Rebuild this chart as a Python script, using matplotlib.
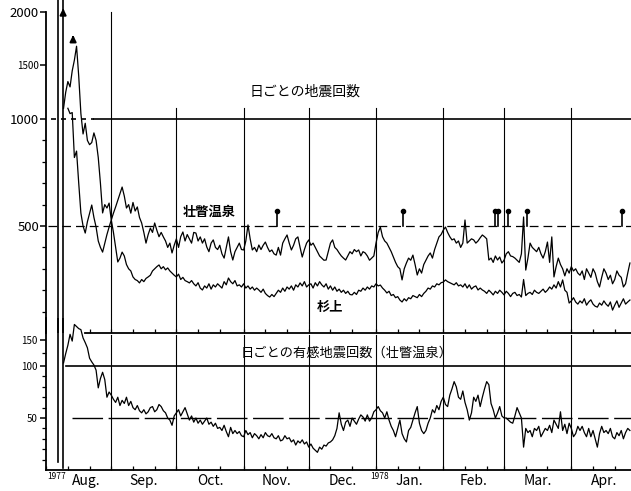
import numpy as np
import matplotlib
matplotlib.use("Agg")
import matplotlib.pyplot as plt

plt.rcParams['font.family'] = ['Noto Sans CJK JP', 'DejaVu Sans']

# days counted from 1977-08-01 (day 0)
sobetsu_start = 9
sobetsu = [1100, 1250, 1350, 1300, 1450, 1550, 1680, 1400, 1050, 930,
           980, 900, 880, 890, 935, 900, 820, 700, 561, 600,
           584, 607, 528, 560, 589, 620, 650, 682, 640, 584,
           600, 560, 610, 570, 589, 540, 514, 470, 420, 460,
           490, 470, 514, 480, 450, 470, 449, 430, 400, 420,
           374, 410, 440, 400, 450, 472, 430, 460, 440, 420,
           470, 467, 430, 449, 420, 440, 402, 380, 420, 435,
           400, 390, 410, 370, 350, 400, 449, 380, 341, 380,
           400, 420, 390, 388, 430, 505, 440, 388, 400, 380,
           411, 390, 410, 425, 400, 380, 388, 370, 364, 400,
           364, 420, 440, 458, 420, 388, 410, 440, 449, 400,
           355, 390, 420, 435, 410, 420, 400, 380, 360, 350,
           340, 341, 380, 420, 435, 400, 390, 374, 360, 350,
           341, 360, 380, 370, 390, 380, 388, 360, 380, 374,
           360, 340, 350, 360, 420, 470, 495, 450, 430, 420,
           400, 380, 355, 330, 310, 300, 248, 300, 327, 350,
           340, 364, 320, 271, 300, 280, 320, 340, 360, 374,
           350, 390, 420, 449, 460, 481, 495, 470, 450, 435,
           440, 420, 430, 400, 420, 528, 420, 430, 440, 435,
           420, 430, 445, 458, 450, 440, 341, 350, 330, 360,
           341, 355, 327, 340, 370, 380, 360, 357, 350, 340,
           330, 370, 542, 294, 350, 420, 400, 390, 380, 400,
           370, 350, 380, 425, 330, 449, 262, 310, 350, 320,
           300, 267, 300, 280, 310, 290, 300, 280, 270, 290,
           250, 300, 280, 260, 300, 280, 240, 215, 260, 300,
           280, 250, 270, 230, 250, 290, 270, 260, 215, 230,
           280, 327]

sugiue_start = 11
sugiue = [1100, 1050, 1060, 820, 850, 700,
          560, 500, 467, 520, 560, 598, 540, 495, 430, 400,
          378, 420, 460, 495, 528, 470, 400, 332, 350, 378,
          360, 320, 300, 290, 262, 250, 245, 234, 250, 240,
          255, 262, 270, 290, 300, 310, 318, 300, 310, 295,
          304, 290, 280, 270, 262, 275, 250, 260, 245, 240,
          234, 245, 230, 220, 235, 210, 201, 220, 210, 230,
          205, 225, 215, 230, 220, 210, 240, 225, 257, 240,
          230, 245, 220, 225, 215, 230, 210, 220, 205, 215,
          200, 210, 201, 190, 205, 185, 175, 168, 180, 170,
          185, 200, 190, 210, 195, 215, 205, 220, 200, 225,
          215, 234, 220, 240, 215, 225, 230, 210, 235, 220,
          240, 225, 215, 230, 205, 220, 200, 215, 195, 205,
          190, 200, 185, 195, 180, 178, 190, 180, 200, 195,
          210, 200, 215, 205, 220, 215, 230, 220, 224, 210,
          200, 187, 195, 175, 180, 165, 170, 154, 145, 160,
          150, 165, 160, 175, 170, 165, 180, 170, 185, 195,
          210, 205, 220, 215, 230, 225, 235, 238, 248, 240,
          235, 230, 225, 235, 220, 225, 215, 230, 210, 225,
          205, 215, 220, 201, 210, 201, 195, 185, 200, 190,
          178, 195, 185, 200, 190, 178, 195, 185, 170, 185,
          190, 175, 180, 168, 250, 175, 185, 190, 180, 200,
          190, 185, 195, 205, 190, 200, 215, 205, 225, 210,
          240, 215, 248, 200, 190, 140, 150, 165, 145, 135,
          150, 140, 160, 130, 145, 155, 135, 125, 121, 140,
          130, 150, 135, 125, 145, 107, 130, 150, 120, 140,
          160, 135, 145, 154]

felt_start = 9
felt = [106, 124, 140, 161, 148, 180, 176, 172, 170, 154,
        145, 135, 115, 108, 102, 96, 79, 88, 94, 87,
        70, 75, 72, 68, 65, 70, 62, 67, 64, 70,
        62, 66, 60, 58, 62, 57, 55, 58, 54, 56,
        60, 61, 56, 58, 63, 61, 57, 55, 50, 48,
        43, 52, 55, 58, 52, 56, 60, 54, 48, 52,
        46, 50, 45, 48, 44, 47, 50, 44, 46, 42,
        45, 40, 41, 38, 43, 37, 32, 41, 35, 38,
        35, 37, 33, 32, 38, 34, 36, 31, 35, 33,
        30, 34, 31, 36, 33, 32, 35, 31, 30, 33,
        28, 29, 33, 30, 31, 27, 29, 24, 28, 26,
        29, 25, 27, 22, 25, 21, 19, 17, 22, 20,
        24, 23, 26, 27, 29, 33, 40, 55, 44, 38,
        46, 48, 42, 50, 47, 44, 49, 53, 51, 47,
        53, 47, 50, 56, 58, 61, 57, 55, 50, 56,
        48, 42, 38, 32, 40, 48, 35, 30, 27, 38,
        41, 48, 55, 61, 45, 38, 35, 38, 45, 50,
        58, 55, 62, 58, 66, 70, 63, 61, 72, 78,
        85, 80, 70, 68, 76, 65, 58, 48, 55, 70,
        66, 72, 61, 70, 78, 85, 82, 64, 58, 50,
        55, 61, 52, 50, 50, 48, 46, 45, 52, 60,
        55, 50, 22, 40, 36, 38, 32, 40, 38, 42,
        32, 36, 40, 38, 43, 36, 48, 44, 40, 56,
        38, 44, 35, 45, 40, 32, 35, 42, 38, 42,
        36, 32, 40, 32, 38, 30, 22, 35, 42, 36,
        38, 35, 40, 32, 30, 36, 33, 38, 30, 36,
        40, 38]

eruption_days = [6.5, 8.7]
offscale_marks = [(8.8, 2060), (13.4, 1810)]
pin_days = [107.4, 165.4, 207.8, 209.2, 213.8, 222.6, 266.4]
month_starts = [31, 61, 92, 122, 153, 184, 212, 243]
month_mids = [19.5, 46, 76.5, 107, 137.5, 168.5, 198, 227.5, 258]
month_names = ['Aug.', 'Sep.', 'Oct.', 'Nov.', 'Dec.', 'Jan.', 'Feb.', 'Mar.', 'Apr.']
minor_days = [1, 11, 21, 31, 41, 51, 61, 71, 81, 92, 102, 112, 122, 132, 142,
              153, 163, 173, 184, 194, 204, 212, 222, 232, 243, 253, 263]

XMIN, XMAX = 0.92, 270.5


def make_scale(brk):
    def fwd(v):
        v = np.asarray(v, dtype=float)
        return np.where(v <= brk, v, brk + (v - brk) / 2.0)

    def inv(f):
        f = np.asarray(f, dtype=float)
        return np.where(f <= brk, f, brk + (f - brk) * 2.0)
    return fwd, inv


fig = plt.figure(figsize=(6.31, 4.91), dpi=100)
lw = 0.9

# ---------- upper panel: daily earthquake counts ----------
ax1 = fig.add_axes([46 / 631, 1 - 333 / 491, 1 - 46 / 631, 333 / 491])
ax1.patch.set_alpha(0)
ax1.set_yscale('function', functions=make_scale(1000))
ax1.set_xlim(XMIN, XMAX)
ax1.set_ylim(0, 2112)

xs = np.arange(sobetsu_start, sobetsu_start + len(sobetsu))
ax1.plot(xs, sobetsu, color='black', lw=lw)
xg = np.arange(sugiue_start, sugiue_start + len(sugiue))
ax1.plot(xg, sugiue, color='black', lw=lw)

for d in eruption_days:
    ax1.plot([d, d], [0, 2112], color='black', lw=1.2)
for d, v in offscale_marks:
    ax1.annotate('', xy=(d, v), xytext=(d, v - 90),
                 arrowprops=dict(arrowstyle='-|>', color='black', lw=1.5,
                                 mutation_scale=9))

ax1.plot([month_starts[0]] * 2, [0, 2000], color='black', lw=0.8)
for d in month_starts[1:]:
    ax1.plot([d, d], [0, 1100], color='black', lw=0.8)

ax1.plot([23, XMAX], [1000, 1000], color='black', lw=1.2)
ax1.plot([3, 23], [1000, 1000], color='black', lw=1.2, ls=(0, (3, 3)))
ax1.plot([2, XMAX], [500, 500], color='black', lw=0.9, ls=(0, (7, 4)))

for d in pin_days:
    ax1.plot([d, d], [500, 568], color='black', lw=1.2)
    ax1.plot(d, 572, 'o', color='black', ms=3)

ax1.text(120.3, 1260, '日ごとの地震回数', fontsize=10, ha='center', va='center')
ax1.text(76, 565, '壮瞥温泉', fontsize=9.5, fontweight='bold', ha='center', va='center')
ax1.text(131.8, 121, '杉上', fontsize=9.5, fontweight='bold', ha='center', va='center')

ax1.spines['top'].set_visible(False)
ax1.spines['right'].set_visible(False)
ax1.spines['left'].set_bounds(0, 2000)
ax1.spines['bottom'].set_bounds(19, XMAX)
ax1.spines['bottom'].set_linewidth(1.3)
ax1.spines['left'].set_linewidth(1.3)
ax1.set_yticks([500, 1000, 1500, 2000])
ax1.set_yticklabels(['500', '1000', '1500', '2000'])
ax1.set_yticks([100, 200, 300, 400, 600, 700, 800, 900], minor=True)
for lab in ax1.get_yticklabels():
    lab.set_fontsize(7 if lab.get_text() == '1500' else 9.5)
ax1.tick_params(axis='y', which='major', direction='out', length=4, width=1.1, pad=1)
ax1.tick_params(axis='y', which='minor', direction='out', length=3, width=0.9)
ax1.set_xticks([])
ax1.set_xticks([d for d in minor_days if d >= 19], minor=True)
ax1.tick_params(axis='x', which='minor', direction='in', length=3, width=0.9)

# ---------- lower panel: daily felt earthquakes ----------
ax2 = fig.add_axes([46 / 631, 1 - 470 / 491, 1 - 46 / 631, 152 / 491])
ax2.patch.set_alpha(0)
ax2.set_yscale('function', functions=make_scale(100))
ax2.set_xlim(XMIN, XMAX)
ax2.set_ylim(0, 192.4)

xf = np.arange(felt_start, felt_start + len(felt))
ax2.plot(xf, felt, color='black', lw=lw)
for d in eruption_days:
    ax2.plot([d, d], [8 if d < 7 else 2, 192.4], color='black', lw=1.2)
for d in month_starts:
    ax2.plot([d, d], [0, 160], color='black', lw=0.8)

ax2.plot([10, XMAX], [100, 100], color='black', lw=1.2)
ax2.plot([13, XMAX], [50, 50], color='black', lw=1.0, ls=(0, (22, 4)))

ax2.text(139.6, 124, '日ごとの有感地震回数（壮瞥温泉）', fontsize=9.5,
         ha='center', va='center')

ax2.spines['top'].set_visible(False)
ax2.spines['right'].set_visible(False)
ax2.spines['bottom'].set_linewidth(1.3)
ax2.spines['left'].set_linewidth(1.3)
ax2.set_yticks([50, 100, 150])
ax2.set_yticklabels(['50', '100', '150'], fontsize=7)
ax2.set_yticks([10, 20, 30, 40, 60, 70, 80, 90, 125], minor=True)
ax2.tick_params(axis='y', which='major', direction='out', length=4, width=1.1, pad=2)
ax2.tick_params(axis='y', which='minor', direction='out', length=3, width=0.9)
ax2.set_xticks(month_mids)
ax2.set_xticklabels(month_names, fontsize=10)
ax2.tick_params(axis='x', which='major', length=0, pad=3)
ax2.set_xticks(minor_days, minor=True)
ax2.tick_params(axis='x', which='minor', direction='in', length=3, width=0.9)

tr = ax2.get_xaxis_transform()
ax2.text(1.5, -0.01, '1977', fontsize=6, ha='left', va='top', transform=tr)
ax2.text(150.5, -0.01, '1978', fontsize=6, ha='left', va='top', transform=tr)

fig.savefig('out.png', dpi=100)
